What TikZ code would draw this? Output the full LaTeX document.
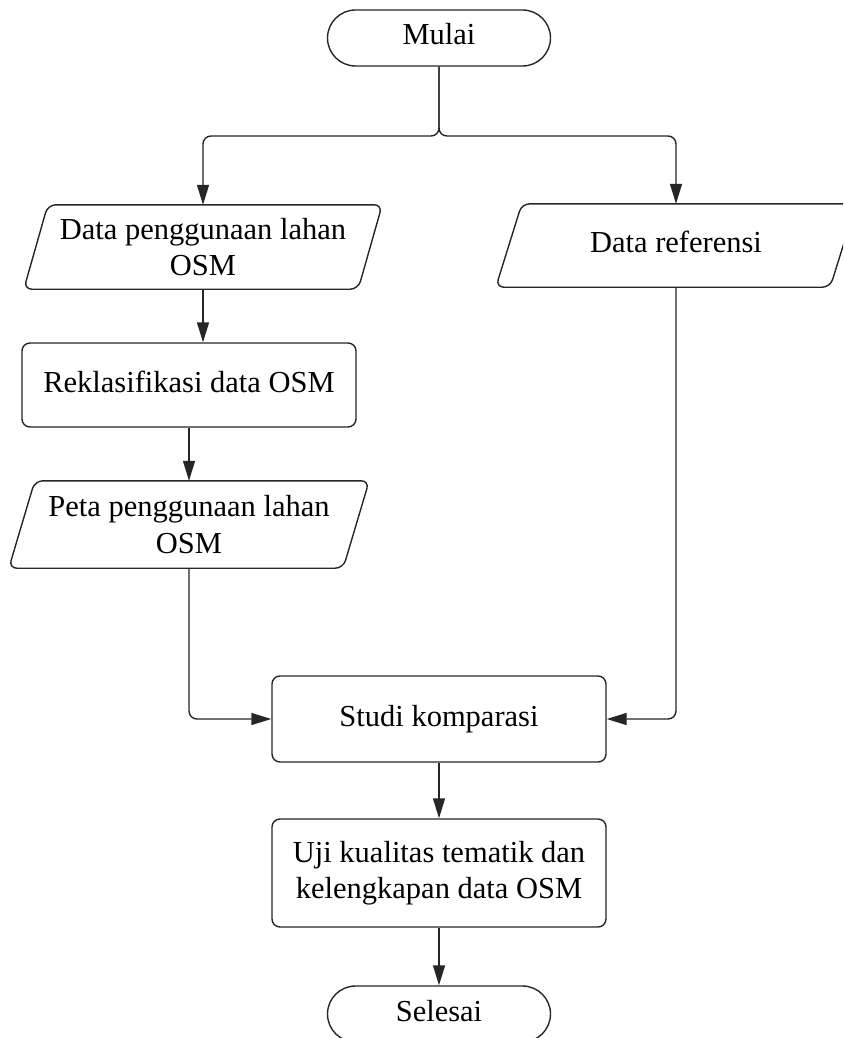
\documentclass[tikz,border=0pt]{standalone}
\usepackage{fontspec}
\setmainfont{Liberation Serif}
\usetikzlibrary{arrows.meta,calc}
\begin{document}
\begin{tikzpicture}[x=1pt,y=-1pt,
  every node/.style={font=\fontsize{30.5}{36.6}\selectfont, align=center, inner sep=0pt, text=black},
  oneline/.style={text height=21pt, text depth=7pt},
  procbox/.style={draw=black!85, rounded corners=8pt, line width=1.4pt, minimum width=334pt},
  termbox/.style={draw=black!85, rounded corners=28pt, line width=1.4pt, minimum width=223pt, minimum height=56pt},
  iobox/.style={minimum width=334pt},
  plain/.style={draw=black!85, line width=1.4pt, rounded corners=8pt},
  conn/.style={plain, -{Triangle[length=20pt,width=12pt]}}]
\path[use as bounding box, clip] (0,0) rectangle (843,1038);

% nodes
\node[termbox, oneline] (mulai) at (439,38) {Mulai};
\node[iobox, minimum height=84pt] (d1) at (203,247) {Data penggunaan lahan\\OSM};
\node[iobox, minimum height=83pt, oneline] (dref) at (676,245.5) {Data referensi};
\node[procbox, minimum height=84pt, oneline] (reklas) at (189,385) {Reklasifikasi data OSM};
\node[iobox, minimum height=87pt] (peta) at (189,524.5) {Peta penggunaan lahan\\OSM};
\node[procbox, minimum height=86pt, oneline] (studi) at (439,719) {Studi komparasi};
\node[procbox, minimum height=108pt] (uji) at (439,873) {Uji kualitas tematik dan\\kelengkapan data OSM};
\node[termbox, oneline] (selesai) at (439,1014) {Selesai};

% parallelogram outlines
\draw[plain] ($(d1.south west)+(-12,0)$) -- ($(d1.north west)+(12,0)$) -- ($(d1.north east)+(12,0)$) -- ($(d1.south east)+(-12,0)$) -- cycle;
\draw[plain] ($(dref.south west)+(-13,0)$) -- ($(dref.north west)+(13,0)$) -- ($(dref.north east)+(13,0)$) -- ($(dref.south east)+(-13,0)$) -- cycle;
\draw[plain] ($(peta.south west)+(-13,0)$) -- ($(peta.north west)+(13,0)$) -- ($(peta.north east)+(13,0)$) -- ($(peta.south east)+(-13,0)$) -- cycle;

% connectors
\coordinate (j) at (439,136);
\draw[conn] (mulai.south) -- (j) -| (d1.north);
\draw[conn] (mulai.south) -- (j) -| (dref.north);
\draw[conn] (d1.south) -- (d1.south |- reklas.north);
\draw[conn] (reklas.south) -- (reklas.south |- peta.north);
\draw[conn] (peta.south) |- (studi.west);
\draw[conn] (dref.south) |- (studi.east);
\draw[conn] (studi.south) -- (uji.north);
\draw[conn] (uji.south) -- (selesai.north);
\end{tikzpicture}
\end{document}
